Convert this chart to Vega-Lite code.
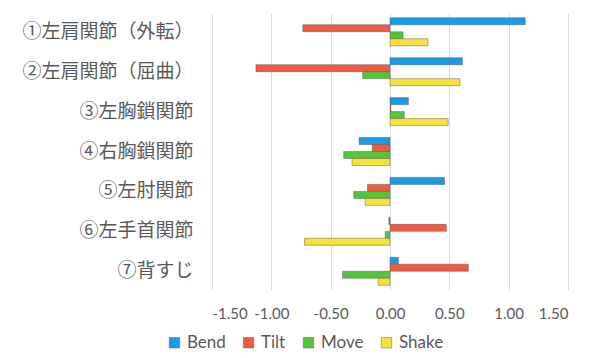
{
  "$schema": "https://vega.github.io/schema/vega-lite/v6.json",
  "width": 356,
  "height": 277,
  "autosize": "none",
  "padding": {"left": 212, "top": 13, "right": 24, "bottom": 68},
  "background": "white",
  "config": {"view": {"stroke": null}},
  "data": {"values": [
    {"cat": "①左肩関節（外転）", "series": "Bend", "v": 1.14},
    {"cat": "①左肩関節（外転）", "series": "Tilt", "v": -0.735},
    {"cat": "①左肩関節（外転）", "series": "Move", "v": 0.11},
    {"cat": "①左肩関節（外転）", "series": "Shake", "v": 0.32},
    {"cat": "②左肩関節（屈曲）", "series": "Bend", "v": 0.61},
    {"cat": "②左肩関節（屈曲）", "series": "Tilt", "v": -1.13},
    {"cat": "②左肩関節（屈曲）", "series": "Move", "v": -0.23},
    {"cat": "②左肩関節（屈曲）", "series": "Shake", "v": 0.59},
    {"cat": "③左胸鎖関節", "series": "Bend", "v": 0.155},
    {"cat": "③左胸鎖関節", "series": "Tilt", "v": 0.008},
    {"cat": "③左胸鎖関節", "series": "Move", "v": 0.12},
    {"cat": "③左胸鎖関節", "series": "Shake", "v": 0.49},
    {"cat": "④右胸鎖関節", "series": "Bend", "v": -0.26},
    {"cat": "④右胸鎖関節", "series": "Tilt", "v": -0.15},
    {"cat": "④右胸鎖関節", "series": "Move", "v": -0.39},
    {"cat": "④右胸鎖関節", "series": "Shake", "v": -0.32},
    {"cat": "⑤左肘関節", "series": "Bend", "v": 0.46},
    {"cat": "⑤左肘関節", "series": "Tilt", "v": -0.19},
    {"cat": "⑤左肘関節", "series": "Move", "v": -0.305},
    {"cat": "⑤左肘関節", "series": "Shake", "v": -0.21},
    {"cat": "⑥左手首関節", "series": "Bend", "v": -0.01},
    {"cat": "⑥左手首関節", "series": "Tilt", "v": 0.475},
    {"cat": "⑥左手首関節", "series": "Move", "v": -0.04},
    {"cat": "⑥左手首関節", "series": "Shake", "v": -0.72},
    {"cat": "⑦背すじ", "series": "Bend", "v": 0.07},
    {"cat": "⑦背すじ", "series": "Tilt", "v": 0.66},
    {"cat": "⑦背すじ", "series": "Move", "v": -0.40},
    {"cat": "⑦背すじ", "series": "Shake", "v": -0.10}
  ]},
  "mark": {"type": "bar", "stroke": "#4a4a4a", "strokeWidth": 0.6, "strokeOpacity": 0.7},
  "encoding": {
    "y": {
      "field": "cat", "type": "nominal", "sort": null,
      "scale": {"paddingInner": 0.3, "paddingOuter": 0.12},
      "axis": {"title": null, "domain": false, "ticks": false, "labelPadding": 19,
               "labelFont": "Noto Sans CJK JP", "labelFontSize": 19, "labelColor": "#595959"}
    },
    "x": {
      "field": "v", "type": "quantitative",
      "scale": {"domain": [-1.5, 1.5], "nice": false},
      "axis": {"title": null, "values": [-1.5, -1, -0.5, 0, 0.5, 1, 1.5],
               "labelExpr": "replace(format(datum.value, '.2f'), '−', '-')",
               "domain": false, "ticks": false, "grid": true, "gridColor": "#d9d9d9",
               "labelFont": "Lato", "labelFontSize": 15, "labelColor": "#595959", "labelPadding": 16}
    },
    "yOffset": {"field": "series", "type": "nominal", "sort": ["Bend", "Tilt", "Move", "Shake"]},
    "color": {
      "field": "series", "type": "nominal",
      "scale": {"domain": ["Bend", "Tilt", "Move", "Shake"],
                "range": ["#1a9be6", "#f05b45", "#52c63a", "#f6e03c"]},
      "legend": {"title": null, "orient": "none", "direction": "horizontal", "legendX": -46, "legendY": 321,
                 "symbolType": "square", "symbolSize": 110, "symbolStrokeColor": "#666", "symbolStrokeWidth": 0.5,
                 "labelFont": "Lato", "labelFontSize": 17, "labelColor": "#595959", "columnPadding": 14, "labelOffset": 4}
    }
  }
}
